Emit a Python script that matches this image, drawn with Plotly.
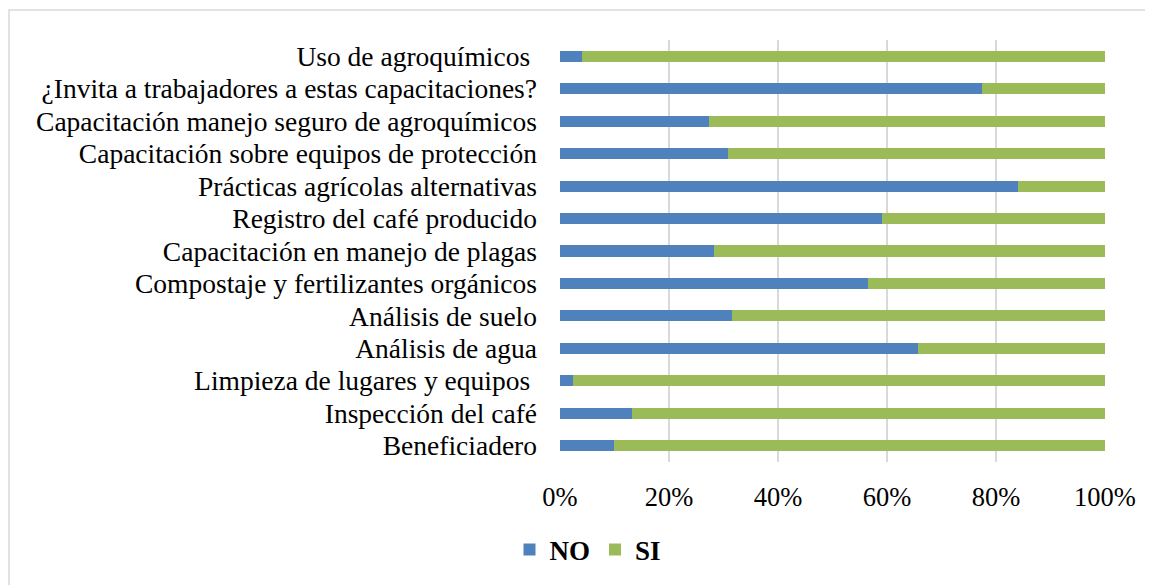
import plotly.graph_objects as go

categories = [
    "Uso de agroquímicos ",
    "¿Invita a trabajadores a estas capacitaciones?",
    "Capacitación manejo seguro de agroquímicos",
    "Capacitación sobre equipos de protección",
    "Prácticas agrícolas alternativas",
    "Registro del café producido",
    "Capacitación en manejo de plagas",
    "Compostaje y fertilizantes orgánicos",
    "Análisis de suelo",
    "Análisis de agua",
    "Limpieza de lugares y equipos ",
    "Inspección del café",
    "Beneficiadero",
]
no_values = [4.1, 77.5, 27.3, 30.8, 84.1, 59.1, 28.3, 56.6, 31.6, 65.7, 2.4, 13.2, 9.9]
si_values = [100 - v for v in no_values]
tick_vals = [0, 20, 40, 60, 80, 100]
tick_text = ["0%", "20%", "40%", "60%", "80%", "100%"]

cats_rev = categories[::-1]
no_rev = no_values[::-1]
si_rev = si_values[::-1]

fig = go.Figure()
fig.add_trace(go.Bar(y=cats_rev, x=no_rev, name="NO", orientation="h",
                     marker=dict(color="#4f81bd", line=dict(width=0))))
fig.add_trace(go.Bar(y=cats_rev, x=si_rev, name="SI", orientation="h",
                     marker=dict(color="#9bbb59", line=dict(width=0))))

# page body has an 8px margin; figure sized to fill the rest of the window
W, H = 1145, 577
l, r, t, b = 552, 48, 32, 122
pw, ph = W - l - r, H - t - b

def px_x(p):  # screen pixel -> paper x
    return (p - 560) / pw

def px_y(p):  # screen pixel -> paper y
    return (463 - p) / ph

fig.update_layout(
    width=W, height=H,
    barmode="stack",
    bargap=0.66,
    paper_bgcolor="white",
    plot_bgcolor="white",
    margin=dict(l=l, r=r, t=t, b=b),
    font=dict(family="Liberation Serif, Times New Roman, serif", size=26, color="#000000"),
    xaxis=dict(range=[0, 100], tickvals=tick_vals, ticktext=tick_text,
               showgrid=True, gridcolor="#d9d9d9", gridwidth=2,
               zeroline=False, showline=False, ticks="",
               tickfont=dict(size=26.5), ticklabelstandoff=16),
    yaxis=dict(showgrid=False, zeroline=False, showline=False, ticks="",
               tickmode="array", tickvals=cats_rev, ticktext=cats_rev,
               tickfont=dict(size=27.5), ticklabelstandoff=22),
    legend=dict(orientation="h", x=px_x(588), xanchor="center", y=px_y(550), yanchor="middle",
                xref="paper", yref="paper",
                font=dict(size=27, family="Liberation Serif", weight="bold"),
                itemwidth=30, tracegroupgap=0, traceorder="normal"),
    shapes=[dict(type="rect", xref="paper", yref="paper",
                 x0=px_x(9), x1=px_x(1200), y0=px_y(620), y1=px_y(10),
                 line=dict(color="#d9d9d9", width=1.5), fillcolor="rgba(0,0,0,0)", layer="below")],
)

fig.write_html("out.html")
